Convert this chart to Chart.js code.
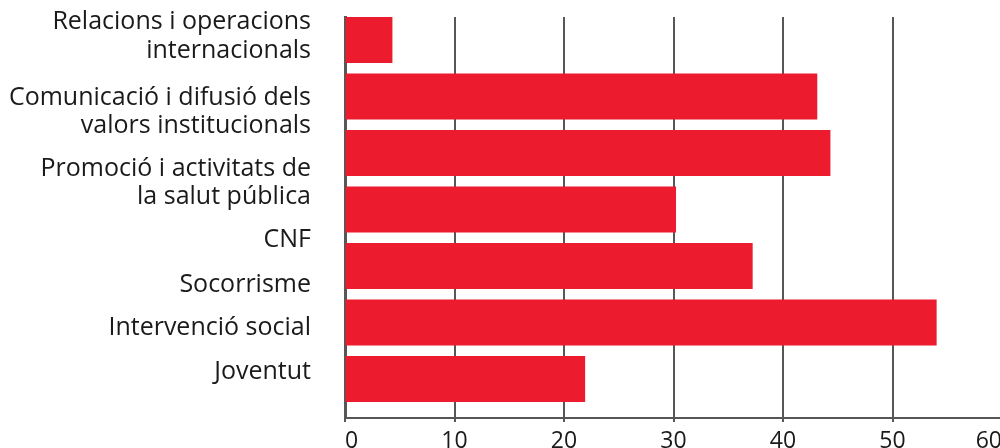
<!DOCTYPE html>
<html>
<head>
<meta charset="utf-8">
<script src="https://cdn.jsdelivr.net/npm/chart.js@4"></script>
<style>
  html, body { margin: 0; padding: 0; background: #fff; overflow: hidden; }
  #wrap { width: 1000px; height: 448px; overflow: hidden; }
</style>
</head>
<body>
<div id="wrap"><canvas id="chart" width="1002" height="470"></canvas></div>
<script>
const categories = [
    ['Relacions i operacions', 'internacionals'],
    ['Comunicació i difusió dels', 'valors institucionals'],
    ['Promoció i activitats de', 'la salut pública'],
    'CNF',
    'Socorrisme',
    'Intervenció social',
    'Joventut'
];
const values = [4.3, 43.1, 44.3, 30.2, 37.2, 54.0, 21.9];
const xTicks = [0, 10, 20, 30, 40, 50, 60];

const gridColor = '#575757';
const fontFamily = "'Open Sans', 'Noto Sans', sans-serif";
// the category labels in the source sit as a text column, not exactly on the bars
const labelNudge = [-0.07, 0.27, 0.53, 0.54, 0.34, 0.10, -0.12];

const ctx = document.getElementById('chart').getContext('2d');

new Chart(ctx, {
    type: 'bar',
    data: {
        datasets: [{
            // index axis is linear so the bars can sit where the picture has them
            data: values.map((v, i) => ({ x: v, y: i })),
            backgroundColor: '#ec1b2d',
            borderWidth: 0,
            barThickness: 45.5
        }]
    },
    options: {
        indexAxis: 'y',
        responsive: false,
        animation: false,
        layout: { padding: { top: 17, right: 0, left: 0, bottom: 0 } },
        plugins: {
            legend: { display: false },
            tooltip: { enabled: false }
        },
        scales: {
            x: {
                type: 'linear',
                min: 0,
                max: 60,
                afterBuildTicks: (scale) => {
                    scale.ticks = xTicks.map(v => ({ value: v }));
                },
                afterFit: (scale) => {
                    scale.height = 52;
                    scale.paddingLeft = 0;
                    scale.paddingRight = 0;
                },
                grid: {
                    // last line falls on the right edge, the source has none there
                    color: (c) => (c.index === xTicks.length - 1 ? 'rgba(0,0,0,0)' : gridColor),
                    lineWidth: 2,
                    drawTicks: true,
                    tickLength: 4
                },
                border: { color: gridColor, width: 2 },
                ticks: {
                    align: 'inner',
                    color: '#1a1a1a',
                    padding: 6,
                    maxRotation: 0,
                    font: { family: fontFamily, size: 23 }
                }
            },
            y: {
                type: 'linear',
                reverse: true,
                offset: false,
                grace: 0,
                min: -0.407,
                max: 6.69,
                afterBuildTicks: (scale) => {
                    scale.ticks = categories.map((c, i) => ({ value: i + labelNudge[i] }));
                },
                afterFit: (scale) => {
                    scale.width = 345;
                    scale.paddingTop = 0;
                    scale.paddingBottom = 0;
                },
                grid: { display: false, drawTicks: false },
                border: { color: gridColor, width: 3 },
                ticks: {
                    color: '#1a1a1a',
                    padding: 34,
                    autoSkip: false,
                    font: { family: fontFamily, size: 25, lineHeight: 1.15 },
                    callback: (v, i) => categories[i]
                }
            }
        }
    }
});
</script>
</body>
</html>
